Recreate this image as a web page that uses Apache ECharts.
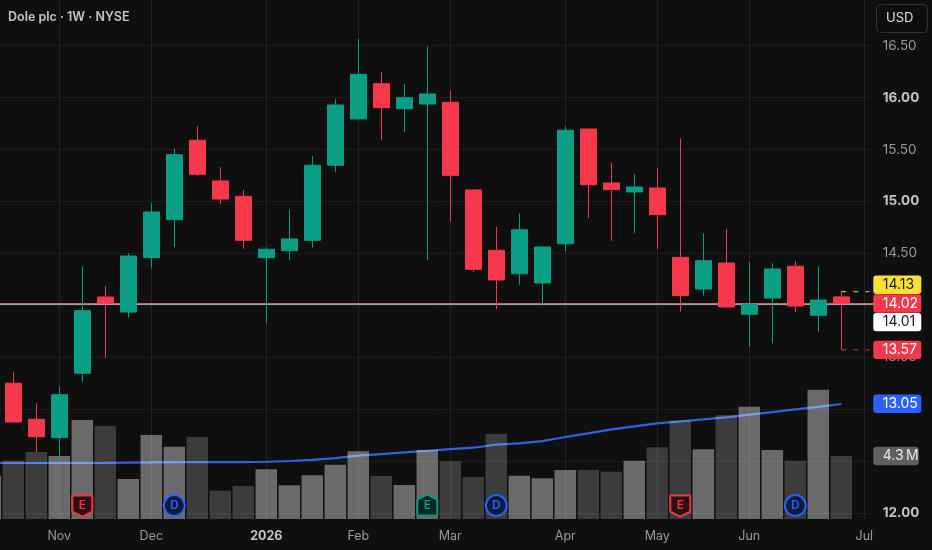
<!DOCTYPE html>
<html><head><meta charset="utf-8">
<style>html,body{margin:0;padding:0;background:#0f0f0f}#c{width:932px;height:550px}</style>
<script src="https://cdn.jsdelivr.net/npm/echarts@6/dist/echarts.min.js"></script>
</head><body><div id="c"></div>
<script>
const weeks=['Oct 13','Oct 20','Oct 27','Nov 3','Nov 10','Nov 17','Nov 24','Dec 1','Dec 8','Dec 15','Dec 22','Dec 29','Jan 5','Jan 12','Jan 19','Jan 26','Feb 2','Feb 9','Feb 16','Feb 23','Mar 2','Mar 9','Mar 16','Mar 23','Mar 30','Apr 6','Apr 13','Apr 20','Apr 27','May 4','May 11','May 18','May 25','Jun 1','Jun 8','Jun 15','Jun 22','Jun 29','Jul 6'];
const monthLabels={'Nov 3':'Nov','Dec 1':'Dec','Jan 5':'2026','Feb 2':'Feb','Mar 2':'Mar','Apr 6':'Apr','May 4':'May','Jun 1':'Jun','Jul 6':'Jul'};
// open, close, low, high
const ohlc=[null,
[13.248,12.875,12.875,13.354],[12.901,12.733,12.586,13.055],[12.724,13.138,12.525,13.212],[13.344,13.947,13.263,14.371],
[14.079,14.021,13.494,14.185],[13.934,14.474,13.88,14.50],[14.458,14.898,14.355,14.985],[14.824,15.45,14.561,15.512],
[15.589,15.261,15.248,15.726],[15.197,15.023,14.975,15.329],[15.049,14.625,14.544,15.11],[14.458,14.539,13.826,14.558],
[14.525,14.638,14.438,14.917],[14.625,15.348,14.554,15.437],[15.348,15.929,15.286,15.987],[15.794,16.224,15.784,16.565],
[16.134,15.903,15.594,16.247],[15.893,15.999,15.666,16.131],[15.938,16.035,14.438,16.494],[15.955,15.251,14.808,16.066],
[15.11,14.346,14.323,15.119],[14.529,14.243,13.963,14.753],[14.303,14.727,14.197,14.885],[14.214,14.561,14.011,14.57],
[14.592,15.685,14.515,15.72],[15.697,15.161,14.84,15.70],[15.177,15.113,14.621,15.373],[15.091,15.139,14.696,15.264],
[15.129,14.872,14.539,15.319],[14.461,14.092,13.937,15.608],[14.156,14.429,14.092,14.693],[14.407,13.983,13.975,14.737],
[13.912,14.009,13.60,14.413],[14.069,14.349,13.633,14.404],[14.375,13.992,13.932,14.426],[13.903,14.05,13.745,14.371],
[14.08,14.02,13.57,14.13],null];
const volumes=[2.96,4.00,4.57,4.30,6.76,6.35,2.73,5.73,4.94,5.60,1.93,2.25,3.39,2.30,2.98,3.71,4.62,2.94,2.32,4.71,3.94,2.87,5.80,2.96,2.78,3.34,3.34,3.23,3.98,4.89,6.73,4.76,7.10,7.67,4.71,3.98,8.83,4.30,null];
const volumeUp=[1,0,0,1,1,0,1,1,1,0,0,0,1,1,1,1,1,0,1,1,0,0,0,1,1,1,0,0,1,0,0,1,0,1,1,0,1,0,0];
const volumeAverage=[12.48,12.48,12.48,12.48,12.48,12.48,12.483,12.486,12.489,12.489,12.489,12.489,12.492,12.499,12.51,12.526,12.55,12.566,12.582,12.598,12.614,12.627,12.656,12.669,12.691,12.73,12.765,12.804,12.832,12.861,12.881,12.90,12.92,12.945,12.97,12.996,13.02,13.048,null];
const priceTicks=['12.50','13.50','14.50','15.50','16.50'];
const boldTicks=['12.00','13.00','14.00','15.00','16.00'];
const lastClose=14.02, prevClose=14.01, dayHigh=14.13, dayLow=13.57;
const priceBadges=[
 {v:14.13,t:'14.13',bg:'#fbe134',fg:'#1a1a1a',off:-7},
 {v:14.02,t:'14.02',bg:'#f5384b',fg:'#ffffff',off:0.4},
 {v:14.01,t:'14.01',bg:'#ffffff',fg:'#1a1a1a',off:18},
 {v:13.57,t:'13.57',bg:'#f5384b',fg:'#ffffff',off:0},
 {v:13.05,t:'13.05',bg:'#2962ff',fg:'#ffffff',off:0}];
const volBadges=[{v:4.3,t:'4.3\u2009M',bg:'#5f5f5f',fg:'#e6e6e6',off:0}];
const events=[['Nov 10','E','#f23645','#2a0f16','down'],['Dec 8','D','#2962ff','#0f1b38','round'],['Feb 23','E','#089981','#0b2420','up'],['Mar 16','D','#2962ff','#0f1b38','round'],['May 11','E','#f23645','#2a0f16','down'],['Jun 15','D','#2962ff','#0f1b38','round']];

const BG='#0f0f0f',GRID='#1c1c1c',VGRID='#232323',UP='#0a9e84',DOWN='#f5384b',FONT='Inter, "Noto Sans", sans-serif';
const lastIdx=weeks.indexOf('Jun 29');
const showMonth=i=>weeks[i] in monthLabels;
const chart=echarts.init(document.getElementById('c'),null,{renderer:'canvas'});

function badge(list){return function(p,api){
  const b=list[p.dataIndex];const y=api.coord([0,b.v])[1]+b.off;
  const w=b.t.includes('M')?45.4:48;
  return {type:'group',silent:true,children:[
   {type:'rect',shape:{x:873.3,y:y-9.2,width:w,height:18.4,r:3},style:{fill:b.bg}},
   {type:'text',style:{x:882.7,y:y,text:b.t,fill:b.fg,font:'14px '+FONT,textVerticalAlign:'middle',textAlign:'left'}}]};
};}
function connector(p,api){
  const x=api.coord([lastIdx,p.dataIndex===0?dayHigh:dayLow]);
  const col=p.dataIndex===0?'#d8cf6a':'#b5404e';
  return {type:'line',silent:true,shape:{x1:x[0],y1:x[1],x2:869.5,y2:x[1]},style:{stroke:col,lineWidth:1,lineDash:[5,7]}};
}
function eventMark(p,api){
  const e=events[p.dataIndex];const c=api.coord([weeks.indexOf(e[0]),0.92]);const x=c[0],y=c[1];
  let shape;
  if(e[4]==='round'){shape={type:'circle',shape:{cx:x,cy:y,r:10.4},style:{fill:e[3],stroke:e[2],lineWidth:2}};}
  else{
    const pts=e[4]==='down'?[[x-10,y-10],[x+10,y-10],[x+10,y+6],[x,y+11],[x-10,y+6]]:[[x,y-11],[x+10,y-6],[x+10,y+10],[x-10,y+10],[x-10,y-6]];
    shape={type:'polygon',shape:{points:pts},style:{fill:e[3],stroke:e[2],lineWidth:2,lineJoin:'round'}};
  }
  return {type:'group',silent:true,children:[shape,
    {type:'text',style:{x:x,y:y,text:e[1],fill:e[2],font:'600 12px '+FONT,textAlign:'center',textVerticalAlign:'middle'}}]};
}
const option={
 backgroundColor:BG,animation:false,
 grid:[{left:-21.2,width:897,top:-6.2,height:570.9,outerBoundsMode:'none',containLabel:false},{left:-21.2,width:897,top:0,height:519,outerBoundsMode:'none',containLabel:false}],
 xAxis:[
  {type:'category',gridIndex:0,data:weeks,show:false},
  {type:'category',gridIndex:1,data:weeks,axisLine:{show:false},axisTick:{show:false},
   splitLine:{show:true,alignWithLabel:true,interval:showMonth,lineStyle:{color:VGRID,width:1}},
   axisLabel:{interval:showMonth,margin:11,fontFamily:FONT,fontSize:12.5,color:'#9a9a9a',hideOverlap:false,
     formatter:v=>v==='Jan 5'?'{b|'+monthLabels[v]+'}':monthLabels[v],rich:{b:{fontWeight:700,fontSize:12.5,fontFamily:FONT,color:'#c4c4c4'}}}}],
 yAxis:[
  {type:'value',gridIndex:0,position:'left',min:11.5,max:17,interval:0.5,axisLine:{show:false},axisTick:{show:false},axisLabel:{show:false},
   splitLine:{show:true,lineStyle:{color:GRID,width:1}},z:0},
  {type:'value',gridIndex:0,position:'right',min:11.5,max:17,interval:0.5,axisLine:{show:false},axisTick:{show:false},splitLine:{show:false},z:5,
   axisLabel:{margin:7,align:'left',fontFamily:FONT,fontSize:13.5,color:'#9a9a9a',
     formatter:v=>{const s=v.toFixed(2);if(boldTicks.includes(s))return '{b|'+s+'}';return priceTicks.includes(s)?s:'';},
     rich:{b:{fontWeight:700,fontSize:13.5,fontFamily:FONT,color:'#c4c4c4'}}}},
  {type:'value',gridIndex:1,min:0,max:35.43,show:false,splitLine:{show:false}}],
 graphic:[
  {type:'rect',z:1,silent:true,shape:{x:873,y:0,width:59,height:550},style:{fill:BG}},
  {type:'text',z:20,silent:true,style:{x:8,y:17,text:'Dole plc · 1W · NYSE',fill:'#c6c6c6',font:'600 12.5px '+FONT,textVerticalAlign:'middle'}},
  {type:'rect',z:20,silent:true,shape:{x:876.5,y:4.5,width:51,height:28,r:4},style:{fill:BG,stroke:'#333333',lineWidth:1}},
  {type:'text',z:21,silent:true,style:{x:886,y:18.5,text:'USD',fill:'#dedede',font:'13px '+FONT,textVerticalAlign:'middle'}}],
 series:[
  {type:'line',xAxisIndex:0,yAxisIndex:1,data:volumeAverage,z:1,symbol:'none',smooth:false,lineStyle:{color:'#2f62e0',width:2.2},
   markLine:{z:2,silent:true,symbol:'none',label:{show:false},animation:false,data:[
    {yAxis:prevClose,lineStyle:{color:'#cfcfcf',type:'solid',width:1.5}},
    {yAxis:lastClose,lineStyle:{color:'#d8324a',type:'dotted',width:1}}]}},
  {type:'bar',xAxisIndex:1,yAxisIndex:2,data:volumes.map((v,i)=>({value:v,itemStyle:{color:volumeUp[i]?'rgba(255,255,255,0.38)':'rgba(255,255,255,0.19)'}})),barWidth:21.5,z:3},
  {type:'candlestick',xAxisIndex:0,yAxisIndex:1,data:ohlc.map(d=>d||'-'),barWidth:17,z:4,
   itemStyle:{color:UP,color0:DOWN,borderColor:UP,borderColor0:DOWN,borderWidth:1}},
  {type:'custom',xAxisIndex:0,yAxisIndex:1,z:5,clip:false,data:[[0,dayHigh],[0,dayLow]],renderItem:connector,silent:true},
  {type:'custom',xAxisIndex:1,yAxisIndex:2,z:6,clip:false,data:events.map((e,i)=>[i,0.92]),renderItem:eventMark,silent:true},
  {type:'custom',xAxisIndex:0,yAxisIndex:1,z:10,clip:false,data:priceBadges.map(b=>[0,b.v]),renderItem:badge(priceBadges),silent:true},
  {type:'custom',xAxisIndex:1,yAxisIndex:2,z:10,clip:false,data:volBadges.map(b=>[0,b.v]),renderItem:badge(volBadges),silent:true}
 ]};
chart.setOption(option);
</script></body></html>
